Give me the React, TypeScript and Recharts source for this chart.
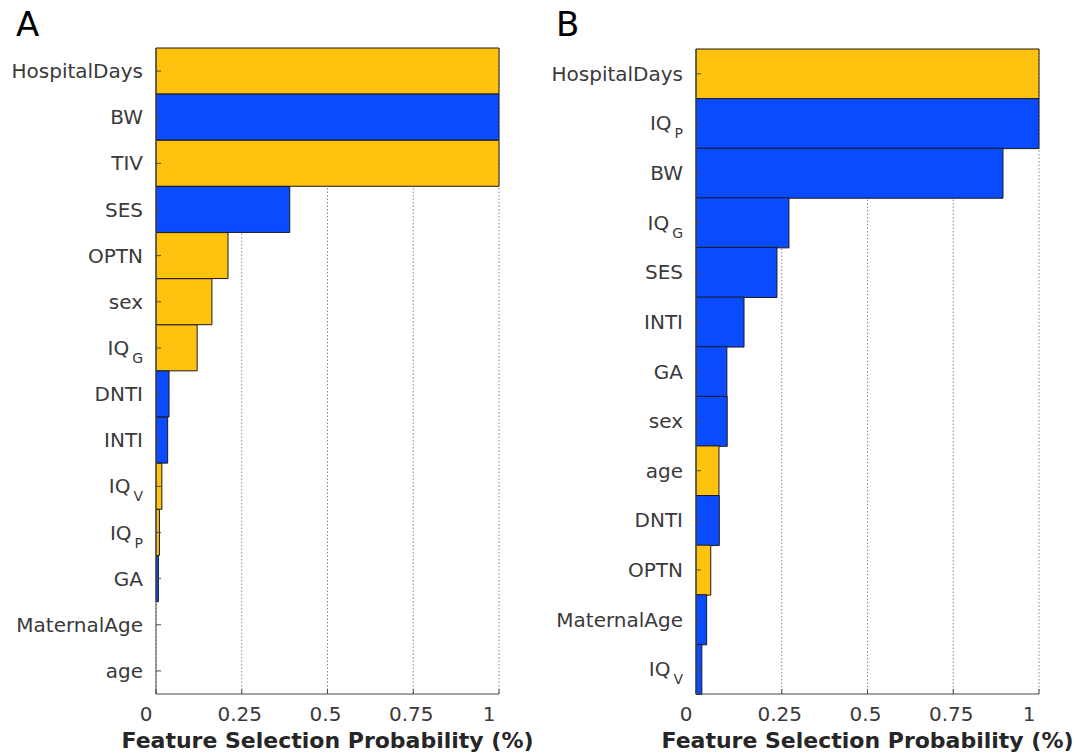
import { BarChart, Bar, XAxis, YAxis, CartesianGrid, Cell } from "recharts";

// panel A
const featuresA = ["HospitalDays", "BW", "TIV", "SES", "OPTN", "sex", "IQ_G", "DNTI", "INTI", "IQ_V", "IQ_P", "GA", "MaternalAge", "age"];
const probA = [1, 1, 1, 0.39, 0.21, 0.163, 0.12, 0.038, 0.034, 0.017, 0.01, 0.007, 0, 0];
const groupA = ["y", "b", "y", "b", "y", "y", "y", "b", "b", "y", "y", "b", "b", "y"];

// panel B
const featuresB = ["HospitalDays", "IQ_P", "BW", "IQ_G", "SES", "INTI", "GA", "sex", "age", "DNTI", "OPTN", "MaternalAge", "IQ_V"];
const probB = [1, 1, 0.895, 0.271, 0.236, 0.14, 0.09, 0.091, 0.067, 0.068, 0.043, 0.031, 0.017];
const groupB = ["y", "b", "b", "b", "b", "b", "b", "b", "y", "b", "y", "b", "b"];

const xTicks = [0, 0.25, 0.5, 0.75, 1];
const xTickLabels = ["0", "0.25", "0.5", "0.75", "1"];

const COLORS: Record<string, string> = { y: "#FFC20E", b: "#0A4BFF" };
const AXIS = "#4a4a4a";
const TEXT = "#3a3a3a";
const FONT = "DejaVu Sans";

function FeatureTick(props: any) {
  const { x, y, payload } = props;
  const [base, sub] = String(payload.value).split("_");
  return (
    <g>
      <line x1={x} x2={x + 5} y1={y} y2={y} stroke={AXIS} />
      <text x={x - 13} y={y} dy="0.35em" textAnchor="end" fill={TEXT} fontSize={20} fontFamily={FONT}>
        {base}
        {sub && <tspan dx={3} dy={8} fontSize={14}>{sub}</tspan>}
      </text>
    </g>
  );
}

function ProbTick(props: any) {
  const { x, y, payload } = props;
  const i = xTicks.indexOf(payload.value);
  const shift = i === 0 || i === xTicks.length - 1 ? -10 : -2;
  return (
    <g>
      <line x1={x} x2={x} y1={y} y2={y - 5} stroke={AXIS} />
      <text x={x + shift} y={y + 27} textAnchor="middle" fill={TEXT} fontSize={20} fontFamily={FONT}>
        {xTickLabels[i]}
      </text>
    </g>
  );
}

function Panel({ features, probs, groups, width, top, right }: any) {
  const data = features.map((f: string, i: number) => ({ name: f, p: probs[i] }));
  return (
    <BarChart
      width={width}
      height={754}
      data={data}
      layout="vertical"
      barCategoryGap={0}
      margin={{ top, right, bottom: 0, left: 0 }}
    >
      <CartesianGrid vertical horizontal={false} stroke="#8a8a8a" strokeDasharray="1.5 2" />
      <XAxis
        type="number"
        dataKey="p"
        domain={[0, 1]}
        ticks={xTicks}
        height={60}
        tickSize={0}
        tickMargin={0}
        tick={<ProbTick />}
        axisLine={{ stroke: AXIS }}
        tickLine={false}
        label={{
          value: "Feature Selection Probability (%)",
          position: "insideBottom",
          offset: 6,
          style: { fontFamily: FONT, fontSize: 22, fontWeight: "bold", fill: "#262626" },
        }}
      />
      <YAxis
        type="category"
        dataKey="name"
        width={156}
        tickSize={0}
        tickMargin={0}
        tick={<FeatureTick />}
        axisLine={{ stroke: AXIS }}
        tickLine={false}
        interval={0}
      />
      <Bar dataKey="p" stroke="#1a1a1a" strokeWidth={1} isAnimationActive={false}>
        {data.map((_: any, i: number) => (
          <Cell key={i} fill={COLORS[groups[i]]} />
        ))}
      </Bar>
    </BarChart>
  );
}

export default function App() {
  const letter = { position: "absolute" as const, top: 4, fontFamily: FONT, fontSize: 34, color: "#000" };
  return (
    <div style={{ position: "absolute", left: 0, top: 0, width: 1074, height: 754, background: "#fff" }}>
      <div style={{ position: "absolute", left: 0, top: 0 }}>
        <Panel features={featuresA} probs={probA} groups={groupA} width={540} top={48} right={41} />
      </div>
      <div style={{ position: "absolute", left: 540, top: 0 }}>
        <Panel features={featuresB} probs={probB} groups={groupB} width={534} top={49} right={35} />
      </div>
      <div style={{ ...letter, left: 16 }}>A</div>
      <div style={{ ...letter, left: 556 }}>B</div>
    </div>
  );
}
